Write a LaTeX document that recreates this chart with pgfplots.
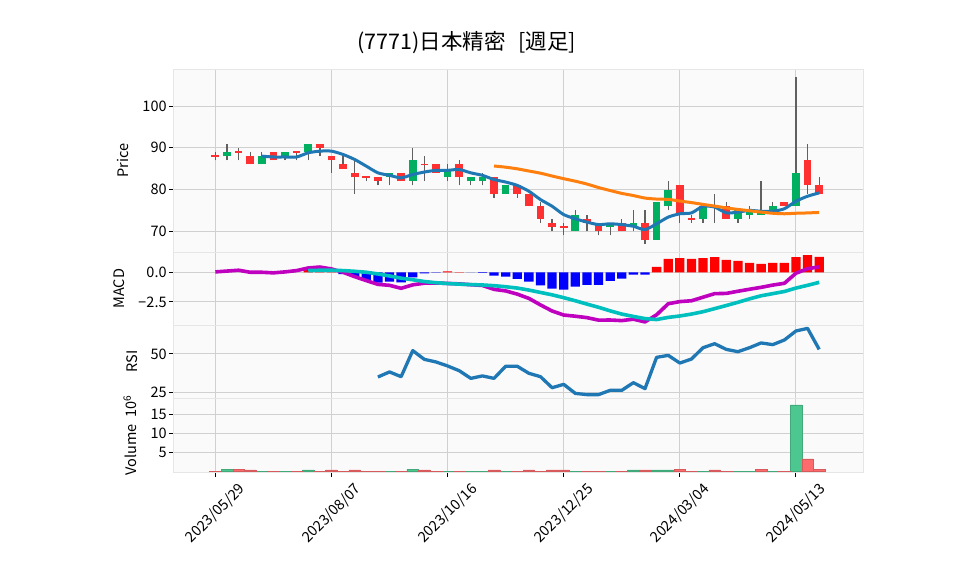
\documentclass[border=0pt]{standalone}
\usepackage{fontspec}
\setmainfont{Noto Sans CJK JP}
\newfontfamily\notosans{Noto Sans}
\usepackage{pgfplots}
\usepackage{pgfplotstable}
\pgfplotsset{compat=1.18}

\definecolor{bgc}{HTML}{FAFAFA}
\definecolor{gridc}{HTML}{D0D0D0}
\definecolor{framec}{HTML}{E6E6E6}
\definecolor{upc}{HTML}{00B060}
\definecolor{dnc}{HTML}{FE3032}
\definecolor{wickc}{HTML}{606060}
\definecolor{vupc}{HTML}{4DC790}
\definecolor{vdnc}{HTML}{FD6B6C}
\definecolor{ma5c}{HTML}{1F77B4}
\definecolor{ma25c}{HTML}{FF7F0E}
\definecolor{macdc}{HTML}{BF00BF}
\definecolor{sigc}{HTML}{00BFBF}

% weekly candles, week 0 = 2023/05/29
\pgfplotstableread{
i o h l c
1 88 91 87 89
4 86 89 86 88
6 88 89 87 89
8 89 91 87 91
15 83 84 81 84
17 82 90 81 87
20 83 86 82 84.4
22 82 83 81 83
23 82 84 81 83
25 79 81 79 81
31 70 75 70 74
34 71 72 69 72
36 71 75 70 72
38 68 77 68 77
39 76 82 75 80
42 73 76 72 76
45 73 75 72 75
46 74 76 73 75
47 74 82 74 75
48 75 77 75 76
50 76 107 76 84
}\upcandles

\pgfplotstableread{
i o h l c
0 88.2 89 87 87.8
2 89.2 90 87 88.8
3 88 89 86 86
5 89 89 87 87
7 89.2 89.2 87 88.8
9 91 91 88 90
10 88 88 84 87
11 86 88 85 85
12 84 87 79 83
13 83.2 83.2 82 82.8
14 83 83 81 82
16 84 84 82 82
18 86.2 88 82 85.8
19 86 86 84 84
21 86 87 81 83
24 83 83 78 79
26 81 81 78 79
27 79 79 76 76
28 76 77 72 73
29 72 73 70 71
30 71.2 72 69 70.8
32 73 74 70 72
33 72 72 69 70
35 72 73 70 70
37 72 75 67 68
40 81 81 72 74
41 73.2 74 72 72.8
43 76.2 79 72 75.8
44 76 77 73 73
49 77 77 76 76
51 87 91 79 81
52 81 83 79 79
}\dncandles

\pgfplotstableread{
i ma
4 88.0
5 87.8
6 87.8
7 87.8
8 88.8
9 89.2
10 89.2
11 88.4
12 87.2
13 85.6
14 84.0
15 83.4
16 82.8
17 83.6
18 84.2
19 84.6
20 84.6
21 84.8
22 84.0
23 83.4
24 82.4
25 81.8
26 81.0
27 79.6
28 77.6
29 76.0
30 74.0
31 73.0
32 72.2
33 71.6
34 71.8
35 71.6
36 71.2
37 70.4
38 71.8
39 73.4
40 74.2
41 74.4
42 76.0
43 75.8
44 74.4
45 74.6
46 75.0
47 74.8
48 74.8
49 75.4
50 77.2
51 78.4
52 79.2
}\mafive

\pgfplotstableread{
i ma
24 85.64
25 85.36
26 84.96
27 84.44
28 83.92
29 83.24
30 82.60
31 82.00
32 81.32
33 80.48
34 79.76
35 79.08
36 78.56
37 77.96
38 77.72
39 77.64
40 77.24
41 76.88
42 76.44
43 76.04
44 75.60
45 75.24
46 74.92
47 74.60
48 74.32
49 74.20
50 74.32
51 74.40
52 74.52
}\matwentyfive

\pgfplotstableread{
i m
0 0.03
1 0.10
2 0.17
3 0.00
4 0.00
5 -0.05
6 0.03
7 0.14
8 0.36
9 0.44
10 0.28
11 0.00
12 -0.37
13 -0.70
14 -1.02
15 -1.10
16 -1.35
17 -1.06
18 -0.92
19 -0.90
20 -0.94
21 -0.98
22 -1.05
23 -1.11
24 -1.44
25 -1.57
26 -1.84
27 -2.20
28 -2.75
29 -3.26
30 -3.60
31 -3.70
32 -3.82
33 -4.03
34 -4.02
35 -4.07
36 -3.95
37 -4.18
38 -3.58
39 -2.65
40 -2.47
41 -2.40
42 -2.10
43 -1.80
44 -1.78
45 -1.60
46 -1.43
47 -1.27
48 -1.08
49 -0.93
50 -0.08
51 0.30
52 0.45
}\macdline

\pgfplotstableread{
i s
8 0.14
9 0.17
10 0.17
11 0.14
12 0.08
13 0.00
14 -0.14
15 -0.31
16 -0.50
17 -0.63
18 -0.78
19 -0.88
20 -0.95
21 -1.00
22 -1.04
23 -1.07
24 -1.13
25 -1.22
26 -1.33
27 -1.50
28 -1.70
29 -1.90
30 -2.14
31 -2.40
32 -2.68
33 -2.95
34 -3.25
35 -3.52
36 -3.72
37 -3.90
38 -3.98
39 -3.80
40 -3.68
41 -3.52
42 -3.32
43 -3.06
44 -2.80
45 -2.53
46 -2.24
47 -1.98
48 -1.80
49 -1.62
50 -1.33
51 -1.10
52 -0.85
}\signalline

\pgfplotstableread{
i v
8 0.20
9 0.27
10 0.11
20 0.07
21 0.02
38 0.45
39 1.12
40 1.20
41 1.12
42 1.20
43 1.28
44 1.04
45 0.96
46 0.80
47 0.70
48 0.78
49 0.78
50 1.28
51 1.45
52 1.30
}\histpos

\pgfplotstableread{
i v
11 -0.15
12 -0.35
13 -0.72
14 -0.87
15 -0.79
16 -0.86
17 -0.44
18 -0.10
19 -0.03
22 -0.01
23 -0.05
24 -0.28
25 -0.37
26 -0.55
27 -0.78
28 -1.10
29 -1.38
30 -1.46
31 -1.21
32 -1.07
33 -1.07
34 -0.72
35 -0.53
36 -0.20
37 -0.20
}\histneg

\pgfplotstableread{
i r
14 35.0
15 38.3
16 35.2
17 52.2
18 46.5
19 44.8
20 42.2
21 39.1
22 34.1
23 35.7
24 34.1
25 42.0
26 42.0
27 37.4
28 35.2
29 28.0
30 30.2
31 24.3
32 23.5
33 23.5
34 26.3
35 26.3
36 31.3
37 27.4
38 47.8
39 49.1
40 44.1
41 46.7
42 54.1
43 56.7
44 53.0
45 51.5
46 54.1
47 57.2
48 56.1
49 59.1
50 65.0
51 66.7
52 53.0
}\rsi

% volume in millions
\pgfplotstableread{
i v
1 0.7
4 0.15
6 0.15
8 0.45
15 0.15
17 0.7
20 0.15
22 0.15
23 0.15
25 0.15
31 0.15
34 0.15
36 0.45
38 0.45
39 0.45
42 0.15
45 0.15
46 0.15
48 0.15
50 17.55
}\volup

\pgfplotstableread{
i v
0 0.1
2 0.7
3 0.45
5 0.15
7 0.15
9 0.15
10 0.45
11 0.15
12 0.45
13 0.15
14 0.15
16 0.15
18 0.45
19 0.15
21 0.15
24 0.45
26 0.15
27 0.45
28 0.15
29 0.45
30 0.45
32 0.15
33 0.15
35 0.15
37 0.45
40 0.7
41 0.15
43 0.45
44 0.15
47 0.7
49 0.15
51 3.35
52 0.7
}\voldown

\pgfplotsset{
  panel/.style={
    scale only axis, width=690pt,
    xmin=-3.62, xmax=55.8,
    axis background/.style={fill=bgc},
    axis line style={draw=framec, line width=1pt},
    grid=major, grid style={draw=gridc, line width=1pt},
    xtick={0,10,20,30,40,50}, xticklabels={},
    xmajorticks=false,
    tick align=outside, major tick length=4.5pt,
    every tick/.style={black, line width=1pt},
    ytick pos=left, xtick pos=bottom,
    font=\fontsize{14.5}{17}\selectfont,
    /pgf/number format/assume math mode=true,
    yticklabel style={inner sep=2pt},
  },
  wicks/.style={draw=none, forget plot, error bars/.cd, y dir=plus, y explicit,
    error mark=none, error bar style={draw=wickc, line width=1.3pt}},
  bodies/.style={draw=none, forget plot, error bars/.cd, y dir=plus, y explicit,
    error mark=none, error bar style={draw=#1, line width=7.7pt}},
}

\begin{document}
\begin{tikzpicture}
\fill[white] (0pt,0pt) rectangle (958pt,-575pt);
\useasboundingbox (0pt,0pt) rectangle (958pt,-575pt);

% price
\begin{axis}[panel, at={(173.3pt,-69.3pt)}, anchor=north west, height=183pt,
  ymin=64.97, ymax=108.8, ytick={70,80,90,100},
  ylabel={Price}, ylabel style={at={([xshift=-50.5pt]rel axis cs:0,0.5)}, anchor=center}]
\addplot[wicks] table[x=i, y=l, y error plus expr=\thisrow{h}-\thisrow{l}] {\upcandles};
\addplot[wicks] table[x=i, y=l, y error plus expr=\thisrow{h}-\thisrow{l}] {\dncandles};
\addplot[bodies=upc] table[x=i, y=o, y error plus expr=\thisrow{c}-\thisrow{o}] {\upcandles};
\addplot[bodies=dnc] table[x=i, y=c, y error plus expr=\thisrow{o}-\thisrow{c}] {\dncandles};
\addplot[ma5c, line width=3pt, smooth, tension=0.4] table[x=i, y=ma] {\mafive};
\addplot[ma25c, line width=3pt, smooth, tension=0.4] table[x=i, y=ma] {\matwentyfive};
\end{axis}

% MACD
\begin{axis}[panel, at={(173.3pt,-252.3pt)}, anchor=north west, height=72.7pt,
  ymin=-4.44, ymax=1.68, ytick={-2.5,0}, yticklabels={{\notosans −}2.5, 0.0},
  ylabel={MACD}, ylabel style={at={([xshift=-53.8pt]rel axis cs:0,0.5)}, anchor=center}]
\addplot[ybar, bar width=0.8, bar shift=0pt, fill=blue, draw=none] table[x=i, y=v] {\histneg};
\addplot[ybar, bar width=0.8, bar shift=0pt, fill=red, draw=none] table[x=i, y=v] {\histpos};
\addplot[macdc, line width=3.6pt, line join=round] table[x=i, y=m] {\macdline};
\addplot[sigc, line width=3.6pt, line join=round] table[x=i, y=s] {\signalline};
\end{axis}

% RSI
\begin{axis}[panel, at={(173.3pt,-325pt)}, anchor=north west, height=73.3pt,
  ymin=21.1, ymax=68.9, ytick={25,50},
  ylabel={RSI}, ylabel style={at={([xshift=-40.8pt]rel axis cs:0,0.5)}, anchor=center}]
\addplot[ma5c, line width=3.3pt, line join=round] table[x=i, y=r] {\rsi};
\end{axis}

% volume
\begin{axis}[panel, at={(173.3pt,-398.3pt)}, anchor=north west, height=74pt,
  ymin=-0.16, ymax=19.3, ytick={5,10,15},
  xmajorticks=true,
  xticklabels={2023/05/29,2023/08/07,2023/10/16,2023/12/25,2024/03/04,2024/05/13},
  xticklabel style={xshift=22pt, rotate=45, anchor=north east},
  ylabel={Volume\ \ 10\textsuperscript{6}}, ylabel style={at={([xshift=-43.5pt]rel axis cs:0,0.5)}, anchor=center}]
\addplot[ybar, bar width=1, bar shift=0pt, fill=vupc, draw=vupc!85!black, line width=0.4pt] table[x=i, y=v] {\volup};
\addplot[ybar, bar width=1, bar shift=0pt, fill=vdnc, draw=vdnc!85!black, line width=0.4pt] table[x=i, y=v] {\voldown};
\end{axis}

\node[font=\fontsize{21.5}{25}\selectfont, anchor=base] at (466.7pt,-50pt) {(7771)日本精密\hspace{0.6em}[週足]};
\end{tikzpicture}
\end{document}
